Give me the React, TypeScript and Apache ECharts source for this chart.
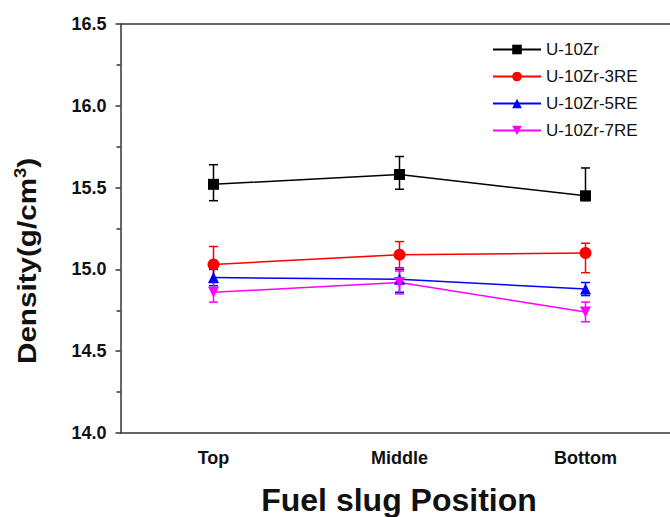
import React, { useEffect, useRef } from "react";
import * as echarts from "echarts";

const categories = ["Top", "Middle", "Bottom"];
const seriesNames = ["U-10Zr", "U-10Zr-3RE", "U-10Zr-5RE", "U-10Zr-7RE"];
const u10zr = [15.52, 15.58, 15.45];
const u10zrUp = [0.12, 0.11, 0.17];
const u10zrDown = [0.1, 0.09, 0.03];
const re3 = [15.03, 15.09, 15.1];
const re3Up = [0.11, 0.08, 0.06];
const re3Down = [0.11, 0.08, 0.12];
const re5 = [14.95, 14.94, 14.88];
const re5Up = [0.05, 0.06, 0.04];
const re5Down = [0.05, 0.08, 0.04];
const re7 = [14.86, 14.92, 14.74];
const re7Up = [0.06, 0.07, 0.06];
const re7Down = [0.06, 0.07, 0.06];
const yTicks = [14.0, 14.5, 15.0, 15.5, 16.0, 16.5];

const colors = ["#000000", "#ff0000", "#0000ff", "#ff00ff"];
const symbols = ["rect", "circle", "triangle", "path://M0,0 L10,0 L5,10 Z"];
const FONT = "Liberation Sans, Arial, sans-serif";

export default function App() {
  const ref = useRef<HTMLDivElement>(null);
  useEffect(() => {
    document.body.style.margin = "0";
    document.body.style.overflow = "hidden";
    if (!ref.current) return;
    const chart = echarts.init(ref.current, null, { renderer: "svg" });
    const values = [u10zr, re3, re5, re7];
    const ups = [u10zrUp, re3Up, re5Up, re7Up];
    const downs = [u10zrDown, re3Down, re5Down, re7Down];

    const lineSeries = values.map((v, i) => ({
      type: "line",
      name: seriesNames[i],
      data: v,
      symbol: symbols[i],
      symbolSize: i === 1 ? 12 : 11,
      lineStyle: { color: colors[i], width: 1.5 },
      itemStyle: { color: colors[i] },
      z: 5,
    }));

    const errSeries = values.map((v, i) => ({
      type: "custom",
      name: seriesNames[i] + "-err",
      data: v.map((val, j) => [j, val - downs[i][j], val + ups[i][j]]),
      z: 4,
      renderItem: (params: any, api: any) => {
        const x = api.value(0);
        const lo = api.coord([x, api.value(1)]);
        const hi = api.coord([x, api.value(2)]);
        const hw = 4.5;
        const style = { stroke: colors[i], lineWidth: 1.5 };
        return {
          type: "group",
          children: [
            { type: "line", shape: { x1: lo[0], y1: lo[1], x2: hi[0], y2: hi[1] }, style },
            { type: "line", shape: { x1: lo[0] - hw, y1: lo[1], x2: lo[0] + hw, y2: lo[1] }, style },
            { type: "line", shape: { x1: hi[0] - hw, y1: hi[1], x2: hi[0] + hw, y2: hi[1] }, style },
          ],
        };
      },
    }));

    chart.setOption({
      animation: false,
      backgroundColor: "#ffffff",
      grid: { left: 120.5, top: 24, width: 558, height: 409, outerBoundsMode: "none", containLabel: false },
      legend: {
        data: seriesNames,
        orient: "vertical",
        left: 487,
        top: 36,
        itemWidth: 48,
        itemHeight: 12,
        itemGap: 10,
        textStyle: { fontFamily: FONT, fontSize: 17, color: "#111" },
        selectedMode: false,
      },
      xAxis: [
        {
          type: "category",
          data: categories,
          boundaryGap: true,
          axisLine: { lineStyle: { color: "#333", width: 1.5 } },
          axisTick: { alignWithLabel: true, length: 6, lineStyle: { color: "#333", width: 1.5 } },
          axisLabel: { margin: 16, fontFamily: FONT, fontSize: 18, fontWeight: "bold", color: "#111" },
          splitLine: { show: false },
          splitArea: { show: false },
        },
      ],
      yAxis: [
        {
          type: "value",
          min: yTicks[0],
          max: yTicks[yTicks.length - 1],
          interval: 0.5,
          axisLine: { show: true, lineStyle: { color: "#333", width: 1.5 } },
          axisTick: { show: true, length: 5, lineStyle: { color: "#333", width: 1.5 } },
          minorTick: { show: true, splitNumber: 2, length: 4, lineStyle: { color: "#333", width: 1.5 } },
          splitLine: { show: false },
          splitArea: { show: false },
          axisLabel: {
            margin: 14,
            fontFamily: FONT,
            fontSize: 18,
            fontWeight: "bold",
            color: "#111",
            formatter: (v: number) => v.toFixed(1),
          },
        },
      ],
      graphic: [
        {
          type: "line",
          z: 10,
          shape: { x1: 120.5, y1: 24, x2: 670, y2: 24 },
          style: { stroke: "#333", lineWidth: 1.5 },
        },
        {
          type: "rect",
          zlevel: 1,
          z: 1000,
          shape: { x: 650, y: 26, width: 20, height: 405 },
          style: { fill: "#ffffff" },
        },
        {
          type: "text",
          x: 27,
          y: 261,
          rotation: Math.PI / 2,
          scaleX: 1.14,
          style: {
            text: "Density(g/cm{sup|3})",
            rich: {
              sup: { fontSize: 16, fontWeight: "bold", verticalAlign: "top", padding: [0, 0, 14, 0], fontFamily: FONT },
            },
            fontFamily: FONT,
            fontSize: 26,
            fontWeight: "bold",
            fill: "#111",
            align: "center",
            verticalAlign: "middle",
          },
        },
        {
          type: "text",
          x: 399,
          y: 500,
          style: {
            text: "Fuel slug Position",
            fontFamily: FONT,
            fontSize: 32,
            fontWeight: "bold",
            fill: "#111",
            align: "center",
            verticalAlign: "middle",
          },
        },
      ],
      series: [...errSeries, ...lineSeries],
    });
    return () => chart.dispose();
  }, []);
  return (
    <div
      ref={ref}
      style={{ position: "absolute", left: 0, top: 0, width: 670, height: 517, background: "#fff" }}
    />
  );
}
